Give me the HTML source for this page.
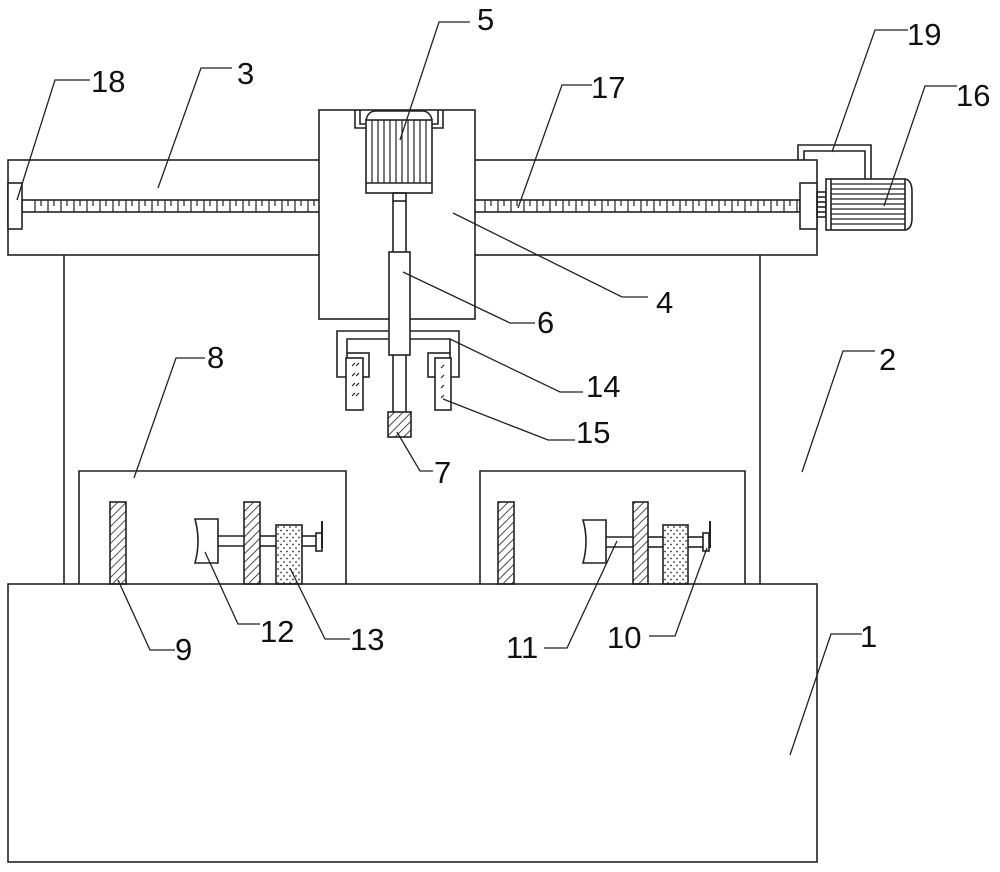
<!DOCTYPE html>
<html><head><meta charset="utf-8"><style>
html,body{margin:0;padding:0;background:#fff;}
svg{display:block;}
text{font-family:"Liberation Sans",sans-serif;font-size:31px;fill:#111;}
</style></head><body>
<svg width="1000" height="872" viewBox="0 0 1000 872" xmlns="http://www.w3.org/2000/svg">
<defs>
<pattern id="hatch" patternUnits="userSpaceOnUse" width="6" height="6" patternTransform="rotate(45)">
<line x1="0" y1="0" x2="0" y2="6" stroke="#222" stroke-width="1.6"/>
</pattern>
<pattern id="dots" patternUnits="userSpaceOnUse" width="6" height="7">
<circle cx="2" cy="2" r="0.9" fill="#333"/><circle cx="5" cy="5.5" r="0.9" fill="#333"/>
</pattern>
</defs>
<g fill="none" stroke="#222" stroke-width="1.6">
<!-- top bar -->
<rect x="8" y="160" width="809" height="95"/>
<!-- columns -->
<line x1="64" y1="255" x2="64" y2="584"/>
<line x1="760" y1="255" x2="760" y2="584"/>
<!-- base -->
<rect x="8" y="584" width="809" height="278"/>
<!-- worktables -->
<polyline points="79,584 79,471 346,471 346,584"/>
<polyline points="480,584 480,471 745,471 745,584"/>
<!-- screw -->
<rect x="22" y="200" width="778" height="12"/>
<!-- left bearing 18 -->
<rect x="8" y="183" width="14" height="46" fill="#fff"/>
<!-- right block -->
<rect x="800" y="183" width="17" height="46" fill="#fff"/>
<!-- coupling -->
<rect x="817" y="192" width="9" height="25"/>
<line x1="817" y1="197" x2="826" y2="197"/><line x1="817" y1="202" x2="826" y2="202"/><line x1="817" y1="207" x2="826" y2="207"/><line x1="817" y1="212" x2="826" y2="212"/>
<!-- motor 16 -->
<rect x="826" y="179" width="79" height="51" fill="#fff"/>
<line x1="831" y1="179" x2="831" y2="230"/>
<path d="M905,179 Q912,180 912,192 L912,218 Q912,229 905,230"/>
<!-- bracket 19 -->
<polyline points="798,160 798,145 871,145 871,179"/>
<polyline points="804,160 804,151 865,151 865,179"/>
<!-- carriage 4 -->
<rect x="319" y="110" width="156" height="209" fill="#fff"/>
<!-- motor 5 brackets -->
<polyline points="355,110 355,128 366,128"/>
<polyline points="360,110 360,124 366,124"/>
<polyline points="443,110 443,128 432,128"/>
<polyline points="438,110 438,124 432,124"/>
<path d="M366,120 Q368,111 376,111 L422,111 Q430,111 432,120"/>
<rect x="366" y="120" width="66" height="73" fill="#fff"/>
<line x1="366" y1="183" x2="432" y2="183"/>
<rect x="393" y="193" width="13" height="8"/>
<line x1="393" y1="201" x2="393" y2="252"/><line x1="406" y1="201" x2="406" y2="252"/>
<!-- cylinder 6 -->
<rect x="389" y="252" width="21" height="103" fill="#fff"/>
<line x1="393" y1="355" x2="393" y2="412"/><line x1="406" y1="355" x2="406" y2="412"/>
<!-- tool 7 -->
<rect x="388" y="412" width="23" height="25" fill="url(#hatch)"/>
<!-- bracket 14 -->
<polyline points="389,331 337,331 337,377 347,377"/>
<polyline points="389,339 347,339 347,353"/>
<polyline points="410,331 459,331 459,377 450,377"/>
<polyline points="410,339 450,339 450,353"/>
<rect x="347" y="353" width="22" height="24"/>
<rect x="428" y="353" width="22" height="24"/>
<rect x="346" y="358" width="17" height="52" fill="#fff"/>
<rect x="435" y="358" width="16" height="52" fill="#fff"/>
<!-- left table parts -->
<rect x="110" y="502" width="16" height="82" fill="url(#hatch)"/>
<rect x="244" y="502" width="16" height="82" fill="url(#hatch)"/>
<rect x="276" y="525" width="26" height="59" fill="url(#dots)"/>
<path d="M195,519 L218,519 L218,563 L195,563 Q201,541 195,519 Z" fill="#fff"/>
<line x1="218" y1="536" x2="244" y2="536"/><line x1="218" y1="546" x2="244" y2="546"/>
<line x1="260" y1="536" x2="276" y2="536"/><line x1="260" y1="546" x2="276" y2="546"/>
<line x1="302" y1="536" x2="316" y2="536"/><line x1="302" y1="546" x2="316" y2="546"/>
<rect x="316" y="533" width="6" height="18"/>
<line x1="322" y1="521" x2="322" y2="548" stroke-width="2"/>
<!-- right table parts -->
<rect x="498" y="502" width="16" height="82" fill="url(#hatch)"/>
<rect x="633" y="502" width="15" height="82" fill="url(#hatch)"/>
<rect x="663" y="525" width="25" height="59" fill="url(#dots)"/>
<path d="M583,520 L606,520 L606,563 L583,563 Q589,541 583,520 Z" fill="#fff"/>
<line x1="606" y1="537" x2="633" y2="537"/><line x1="606" y1="547" x2="633" y2="547"/>
<line x1="648" y1="537" x2="663" y2="537"/><line x1="648" y1="547" x2="663" y2="547"/>
<line x1="688" y1="537" x2="703" y2="537"/><line x1="688" y1="547" x2="703" y2="547"/>
<rect x="703" y="533" width="6" height="18"/>
<line x1="710" y1="521" x2="710" y2="548" stroke-width="2"/>
</g>
<!-- screw ticks -->
<g stroke="#222" stroke-width="1.2">
<path id="ticks" d=""/>
</g>
<g stroke="#222" stroke-width="1.2" fill="none">
<path d="M35,200v12M48,200v12M61,200v12M74,200v12M87,200v12M100,200v12M113,200v12M126,200v12M139,200v12M152,200v12M165,200v12M178,200v12M191,200v12M204,200v12M217,200v12M230,200v12M243,200v12M256,200v12M269,200v12M282,200v12M295,200v12M308,200v12"/>
<path d="M41,200v6M54,200v6M67,200v6M80,200v6M93,200v6M106,200v6M119,200v6M132,200v6M145,200v6M158,200v6M171,200v6M184,200v6M197,200v6M210,200v6M223,200v6M236,200v6M249,200v6M262,200v6M275,200v6M288,200v6M301,200v6M314,200v6"/>
<path d="M485,200v12M498,200v12M511,200v12M524,200v12M537,200v12M550,200v12M563,200v12M576,200v12M589,200v12M602,200v12M615,200v12M628,200v12M641,200v12M654,200v12M667,200v12M680,200v12M693,200v12M706,200v12M719,200v12M732,200v12M745,200v12M758,200v12M771,200v12M784,200v12M797,200v12"/>
<path d="M491,200v6M504,200v6M517,200v6M530,200v6M543,200v6M556,200v6M569,200v6M582,200v6M595,200v6M608,200v6M621,200v6M634,200v6M647,200v6M660,200v6M673,200v6M686,200v6M699,200v6M712,200v6M725,200v6M738,200v6M751,200v6M764,200v6M777,200v6M790,200v6"/>
<!-- motor 5 fins -->
<path d="M372,120v63M378,120v63M384,120v63M390,120v63M396,120v63M402,120v63M408,120v63M414,120v63M420,120v63M426,120v63"/>
<!-- motor 16 fins -->
<path d="M831,184h74M831,189h74M831,194h74M831,199h74M831,204h74M831,209h74M831,214h74M831,219h74M831,224h74"/>
<!-- cylinder small bits on pads -->
<path d="M352,366l3,-3M352,376l3,-3M352,386l3,-3M352,396l3,-3M356,366l3,-3M356,376l3,-3M356,386l3,-3M356,396l3,-3M441,368l3,-3M441,378l3,-3M441,388l3,-3M441,398l3,-3"/>
</g>
<!-- leader lines -->
<g stroke="#222" stroke-width="1.3" fill="none">
<polyline points="470,22 439,22 400,140"/>
<polyline points="232,68 201,68 158,188"/>
<polyline points="90,80 55,80 17,200"/>
<polyline points="592,85 562,85 518,208"/>
<polyline points="908,30 875,30 832,152"/>
<polyline points="957,86 925,86 884,206"/>
<polyline points="453,213 622,297 648,297"/>
<polyline points="403,272 510,323 535,323"/>
<polyline points="450,339 560,392 583,392"/>
<polyline points="443,399 548,440 575,440"/>
<polyline points="875,351 843,351 802,472"/>
<polyline points="205,358 176,358 134,478"/>
<polyline points="397,432 420,471 433,471"/>
<polyline points="118,580 150,650 175,650"/>
<polyline points="205,552 238,624 260,624"/>
<polyline points="290,568 325,639 350,639"/>
<polyline points="617,541 567,648 544,648"/>
<polyline points="707,548 675,636 649,636"/>
<polyline points="790,755 831,634 862,634"/>
</g>
<g>
<text x="477" y="30">5</text>
<text x="237" y="84">3</text>
<text x="91" y="92">18</text>
<text x="591" y="98">17</text>
<text x="907" y="45">19</text>
<text x="956" y="106">16</text>
<text x="656" y="313">4</text>
<text x="537" y="333">6</text>
<text x="586" y="397">14</text>
<text x="576" y="443">15</text>
<text x="879" y="370">2</text>
<text x="207" y="368">8</text>
<text x="434" y="483">7</text>
<text x="175" y="660">9</text>
<text x="260" y="642">12</text>
<text x="350" y="650">13</text>
<text x="506" y="658">11</text>
<text x="607" y="648">10</text>
<text x="860" y="647">1</text>
</g>
</svg>
</body></html>
